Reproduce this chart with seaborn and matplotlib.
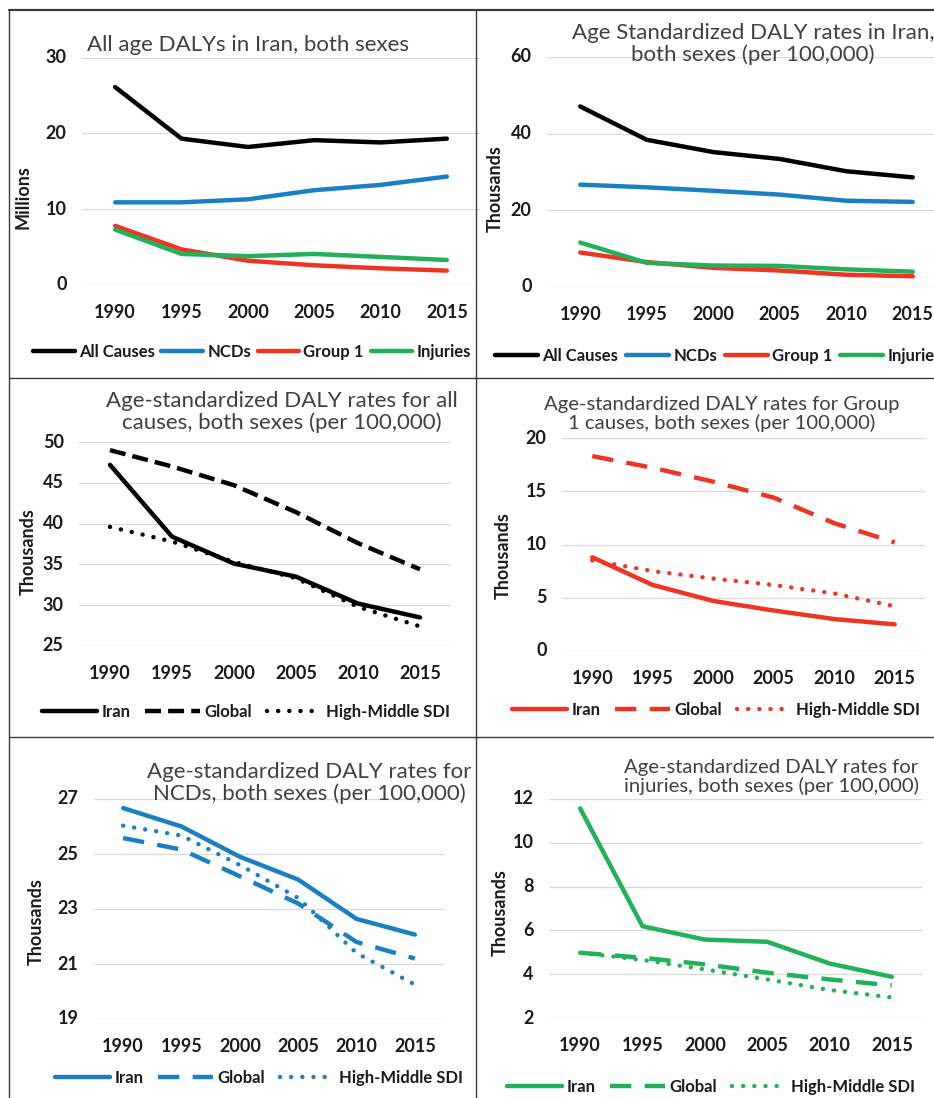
import numpy as np
import pandas as pd
import matplotlib
matplotlib.use("Agg")
import matplotlib.pyplot as plt
import seaborn as sns
from matplotlib.lines import Line2D

years = ["1990", "1995", "2000", "2005", "2010", "2015"]

# Panel 1: all age DALYs (millions)
cause_names = ["All Causes", "NCDs", "Group 1", "Injuries"]
dalys_all_causes = [26.1, 19.3, 18.2, 19.1, 18.8, 19.3]
dalys_ncds = [10.9, 10.9, 11.3, 12.5, 13.2, 14.3]
dalys_group1 = [7.8, 4.7, 3.2, 2.6, 2.2, 1.9]
dalys_injuries = [7.3, 4.1, 3.8, 4.1, 3.7, 3.3]

# Panel 2: age standardized rates in Iran (thousands per 100,000)
rate_all_causes = [47.1, 38.4, 35.2, 33.4, 30.2, 28.6]
rate_ncds = [26.7, 26.0, 25.1, 24.1, 22.5, 22.2]
rate_group1 = [9.0, 6.5, 5.0, 4.3, 3.2, 2.8]
rate_injuries = [11.6, 6.3, 5.6, 5.5, 4.6, 4.0]

# Panels 3-6: Iran vs Global vs High-Middle SDI
region_names = ["Iran", "Global", "High-Middle SDI"]
allc_iran = [47.2, 38.4, 35.1, 33.5, 30.2, 28.5]
allc_global = [49.0, 47.0, 44.7, 41.4, 37.6, 34.4]
allc_hmsdi = [39.6, 37.8, 35.3, 33.3, 29.8, 27.4]

g1_iran = [8.8, 6.2, 4.7, 3.8, 3.0, 2.5]
g1_global = [18.3, 17.2, 15.9, 14.4, 12.0, 10.2]
g1_hmsdi = [8.5, 7.5, 6.8, 6.2, 5.4, 4.2]

ncd_iran = [26.67, 26.0, 24.9, 24.07, 22.64, 22.07]
ncd_global = [25.58, 25.16, 24.19, 23.2, 21.8, 21.2]
ncd_hmsdi = [26.03, 25.67, 24.6, 23.4, 21.4, 20.25]

inj_iran = [11.57, 6.19, 5.58, 5.48, 4.49, 3.88]
inj_global = [4.98, 4.75, 4.45, 4.07, 3.76, 3.49]
inj_hmsdi = [4.98, 4.65, 4.22, 3.76, 3.28, 2.94]

BLACK = "#000000"
BLUE = "#1b80c3"
RED = "#ee3524"
GREEN = "#22b05a"

sns.set_theme(style="white")
plt.rcParams["font.family"] = ["Lato", "DejaVu Sans"]

W, H, DPI = 934, 1098, 100
fig = plt.figure(figsize=(W / DPI, H / DPI), dpi=DPI)


def fx(px):
    return px / W


def fy(py):
    return 1 - py / H


def make_df(names, series):
    rows = []
    for name, vals in zip(names, series):
        for i, v in enumerate(vals):
            rows.append({"pos": i, "value": v, "series": name})
    return pd.DataFrame(rows)


def panel(rect, names, series, colors, dashes, ylim, yticks, ylabel, ylab_xy,
          title, title_xy, title_size, leg_x, leg_y, handlelen, colspace):
    left, right, top, bottom = rect
    ax = fig.add_axes([fx(left), fy(bottom), (right - left) / W, (bottom - top) / H])
    df = make_df(names, series)
    sns.lineplot(data=df, x="pos", y="value", hue="series", style="series",
                 hue_order=names, style_order=names, palette=dict(zip(names, colors)),
                 dashes=dict(zip(names, dashes)), linewidth=3.2, errorbar=None,
                 legend=False, ax=ax)
    for line, d in zip(ax.lines, dashes):
        line.set_solid_joinstyle("round")
        line.set_solid_capstyle("round")
        if d != "" and d[0] < 0.1:
            line.set_dash_capstyle("round")
    ax.set_xlim(-0.5, 5.5)
    ax.set_ylim(*ylim)
    ax.set_xticks(range(len(years)), years, fontweight="bold", fontsize=13)
    ax.set_yticks(yticks, [str(t) for t in yticks], fontweight="bold", fontsize=13)
    ax.tick_params(length=0, axis="x", pad=14, colors="#1a1a1a")
    ax.tick_params(length=0, axis="y", pad=11, colors="#1a1a1a")
    for lbl in ax.get_yticklabels():
        lbl.set_verticalalignment("center")
    ax.grid(axis="y", color="#d9d9d9", lw=0.9)
    ax.set_axisbelow(True)
    sns.despine(ax=ax, left=True, bottom=True)
    ax.set_xlabel("")
    ax.set_ylabel(ylabel, fontweight="bold", fontsize=13, color="#1a1a1a")
    ax.yaxis.set_label_coords(fx(ylab_xy[0]), fy(ylab_xy[1]), transform=fig.transFigure)
    fig.text(fx(title_xy[0]), fy(title_xy[1]), title, ha="center", va="center",
             fontsize=title_size, color="#404040", linespacing=1.1)
    leg = fig.legend(ax.lines[:len(names)], names, loc="center left",
                     bbox_to_anchor=(fx(leg_x), fy(leg_y)), ncol=len(names),
                     frameon=False, handlelength=handlelen, handletextpad=0.25,
                     columnspacing=colspace, borderpad=0, borderaxespad=0,
                     prop={"weight": "bold", "size": 12})
    for t in leg.get_texts():
        t.set_color("#1a1a1a")
    return ax


long_dash = (4.8, 3.0)
short_dash = (3.6, 1.6)
dot = (0.01, 2.5)

panel((82, 480, 57.5, 285), cause_names,
      [dalys_all_causes, dalys_ncds, dalys_group1, dalys_injuries],
      [BLACK, BLUE, RED, GREEN], ["", "", "", ""], (0, 30), [0, 10, 20, 30],
      "Millions", (32, 197), "All age DALYs in Iran, both sexes", (248, 45), 16,
      33, 352, 2.5, 0.4)

panel((547, 946, 57, 287), cause_names,
      [rate_all_causes, rate_ncds, rate_group1, rate_injuries],
      [BLACK, BLUE, RED, GREEN], ["", "", "", ""], (0, 60), [0, 20, 40, 60],
      "Thousands", (504, 189),
      "Age Standardized DALY rates in Iran,\nboth sexes (per 100,000)", (753, 44), 16,
      495, 356, 2.6, 0.45)

panel((79, 451, 442, 646), region_names, [allc_iran, allc_global, allc_hmsdi],
      [BLACK] * 3, ["", short_dash, dot], (25, 50), [25, 30, 35, 40, 45, 50],
      "Thousands", (37, 552),
      "Age-standardized DALY rates for all\ncauses, both sexes (per 100,000)", (282, 412), 16,
      42, 712, 3.3, 0.9)

panel((562, 925, 438, 651), region_names, [g1_iran, g1_global, g1_hmsdi],
      [RED] * 3, ["", long_dash, dot], (0, 20), [0, 5, 10, 15, 20],
      "Thousands", (512, 556),
      "Age-standardized DALY rates for Group\n1 causes, both sexes (per 100,000)", (722, 414), 14.6,
      512, 710, 3.3, 0.9)

panel((94, 444, 799, 1019), region_names, [ncd_iran, ncd_global, ncd_hmsdi],
      [BLUE] * 3, ["", long_dash, dot], (19, 27), [19, 21, 23, 25, 27],
      "Thousands", (45, 922),
      "Age-standardized DALY rates for\nNCDs, both sexes (per 100,000)", (309, 783), 16,
      55, 1078, 3.3, 0.9)

panel((549, 923, 799, 1018), region_names, [inj_iran, inj_global, inj_hmsdi],
      [GREEN] * 3, ["", long_dash, dot], (2, 12), [2, 4, 6, 8, 10, 12],
      "Thousands", (509, 913),
      "Age-standardized DALY rates for\ninjuries, both sexes (per 100,000)", (771, 777), 14.6,
      507, 1087, 3.3, 0.9)

# panel borders
border = "#3a3a3a"
fig.add_artist(Line2D([fx(9), fx(934)], [fy(9.5), fy(9.5)], color=border, lw=1.6))
fig.add_artist(Line2D([fx(9), fx(9)], [fy(9.5), fy(1098)], color=border, lw=1.0))
fig.add_artist(Line2D([fx(476), fx(476)], [fy(9.5), fy(1098)], color=border, lw=1.0))
fig.add_artist(Line2D([fx(9), fx(934)], [fy(377.5), fy(377.5)], color=border, lw=1.0))
fig.add_artist(Line2D([fx(9), fx(934)], [fy(737), fy(737)], color=border, lw=1.0))

fig.savefig("out.png", dpi=DPI)
